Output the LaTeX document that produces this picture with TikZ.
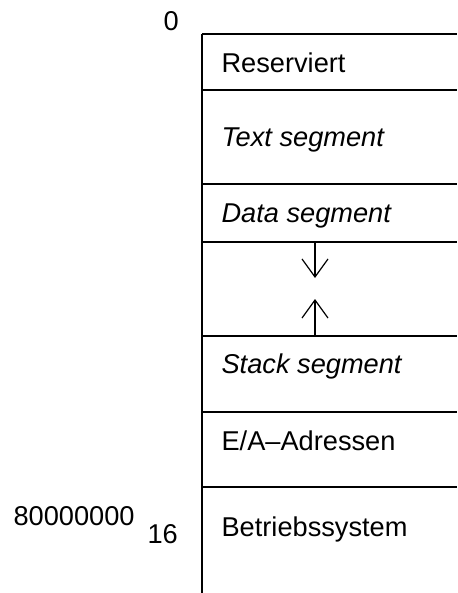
\documentclass[tikz,border=0pt]{standalone}
\usepackage{fontspec}
\setmainfont{Liberation Sans}
\usetikzlibrary{arrows.meta}

\begin{document}
\begin{tikzpicture}[x=0.5pt,y=-0.5pt,
  line width=0.6pt,
  seg/.style={anchor=base west,inner sep=0pt,font=\fontsize{13.6}{16}\selectfont},
  addr/.style={anchor=base west,inner sep=0pt,font=\fontsize{13.6}{16}\selectfont},
  growarrow/.style={-{Straight Barb[length=9pt,width=13pt]}}
  ]
\useasboundingbox (0,0) rectangle (457,593);
\def\xl{202}
\def\xr{457}
\def\xm{315}
\def\xt{221}
% left edge of the memory column
\coordinate (top) at (\xl,34);
\coordinate (bot) at (\xl,593);
% borders between the segments
\coordinate (A) at (\xl,34);  \coordinate (A2) at (\xr,34);
\coordinate (B) at (\xl,90);  \coordinate (B2) at (\xr,90);
\coordinate (C) at (\xl,184); \coordinate (C2) at (\xr,184);
\coordinate (D) at (\xl,242); \coordinate (D2) at (\xr,242);
\coordinate (E) at (\xl,336); \coordinate (E2) at (\xr,336);
\coordinate (F) at (\xl,412); \coordinate (F2) at (\xr,412);
\coordinate (G) at (\xl,487); \coordinate (G2) at (\xr,487);
\draw (top) -- (bot);
\draw (A) -- (A2);
\draw (B) -- (B2);
\draw (C) -- (C2);
\draw (D) -- (D2);
\draw (E) -- (E2);
\draw (F) -- (F2);
\draw (G) -- (G2);
% heap and stack grow towards each other
\coordinate (heap) at (\xm,242);
\coordinate (heapend) at (\xm,278);
\coordinate (stack) at (\xm,336);
\coordinate (stackend) at (\xm,299);
\draw[growarrow] (heap) -- (heapend);
\draw[growarrow] (stack) -- (stackend);
% segment names
\node[seg] (rsv) at (\xt,73) {Reserviert};
\node[seg] (txt) at (\xt,147) {\itshape Text segment};
\node[seg] (dat) at (\xt,222) {\itshape Data segment};
\node[seg] (stk) at (\xt,373) {\itshape Stack segment};
\node[seg] (io)  at (\xt,450) {E/A--Adressen};
\node[seg] (os)  at (\xt,536) {Betriebssystem};
% addresses
\node[addr] (zero) at (163,31) {0};
\node[addr] (osaddr) at (13,525) {80000000};
\node[addr] (base) at (147,543) {16};
\end{tikzpicture}
\end{document}
